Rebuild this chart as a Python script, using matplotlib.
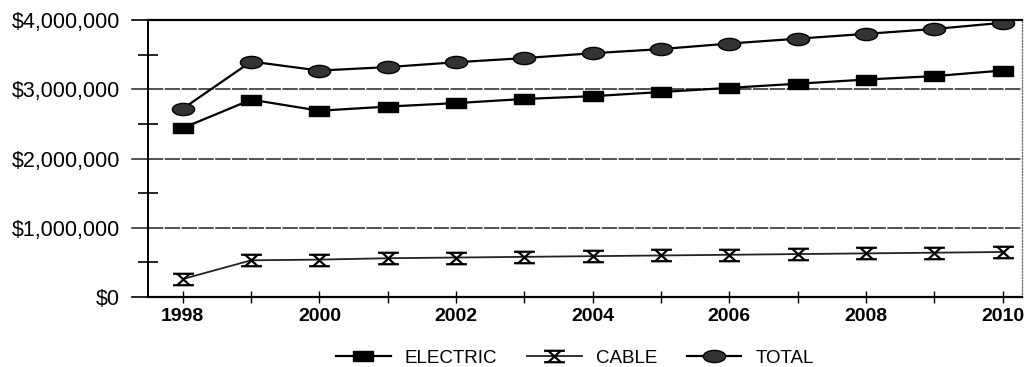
import matplotlib
matplotlib.use("Agg")
import matplotlib.pyplot as plt
from matplotlib.path import Path
from matplotlib.ticker import FuncFormatter, MultipleLocator
import numpy as np

years = [1998, 1999, 2000, 2001, 2002, 2003, 2004, 2005, 2006, 2007, 2008, 2009, 2010]
electric = [2440000, 2850000, 2690000, 2750000, 2800000, 2860000, 2900000,
            2960000, 3020000, 3080000, 3140000, 3190000, 3270000]
cable = [260000, 530000, 540000, 560000, 570000, 580000, 590000,
         600000, 610000, 620000, 630000, 640000, 650000]
total = [2720000, 3400000, 3270000, 3320000, 3390000, 3450000, 3520000,
         3580000, 3660000, 3730000, 3800000, 3870000, 3960000]
year_labels = ["1998", "2000", "2002", "2004", "2006", "2008", "2010"]

plt.rcParams['font.family'] = ['Liberation Sans', 'DejaVu Sans']

# wide rectangle marker for ELECTRIC
rect = Path([(-1, -0.5), (1, -0.5), (1, 0.5), (-1, 0.5), (-1, -0.5)],
            [Path.MOVETO, Path.LINETO, Path.LINETO, Path.LINETO, Path.CLOSEPOLY])
# flattened ellipse marker for TOTAL
circ = Path.unit_circle()
ellipse = Path(circ.vertices * np.array([1.0, 0.55]), circ.codes)
# bar-and-cross marker for CABLE
bowtie = Path([(-1, 0.55), (1, 0.55), (-1, -0.55), (1, -0.55),
               (-0.6, 0.55), (0.6, -0.55), (0.6, 0.55), (-0.6, -0.55)],
              [Path.MOVETO, Path.LINETO, Path.MOVETO, Path.LINETO,
               Path.MOVETO, Path.LINETO, Path.MOVETO, Path.LINETO])

fig = plt.figure(figsize=(10.25, 3.67), dpi=100)
ax = fig.add_axes([0.1444, 0.1907, 0.853, 0.7548])

ax.plot(years, electric, color='black', lw=1.6, marker=rect, ms=15,
        mfc='black', mec='black', label='ELECTRIC')
ax.plot(years, cable, color='#222222', lw=1.3, marker=bowtie, ms=15,
        mec='black', mew=1.6, label='CABLE')
ax.plot(years, total, color='black', lw=1.6, marker=ellipse, ms=16,
        mfc='#333333', mec='black', label='TOTAL')

ax.set_xlim(1997.49, 2010.29)
ax.set_ylim(0, 4000000)

ax.yaxis.set_major_locator(MultipleLocator(1000000))
ax.yaxis.set_minor_locator(MultipleLocator(500000))
ax.yaxis.set_major_formatter(FuncFormatter(lambda v, p: f"${v:,.0f}"))
ax.set_xticks(years, minor=True)
ax.set_xticks([int(y) for y in year_labels])
ax.set_xticklabels(year_labels, fontweight='bold', fontsize=14)
ax.tick_params(axis='y', which='major', direction='in', length=0, labelsize=15.5, pad=20)
ax.tick_params(axis='y', which='minor', direction='inout', length=14, width=1.2)
ax.tick_params(axis='x', which='both', direction='inout', length=8, width=1, pad=4)

for v in [1000000, 2000000, 3000000]:
    ax.axhline(v, color='#222222', lw=1.1, ls=(0, (10, 1)), zorder=0)
    ax.plot([1997.25, 1997.49], [v, v], color='#222222', lw=1.1, clip_on=False)
ax.plot([1997.25, 1997.49], [4000000, 4000000], color='black', lw=1.2, clip_on=False)
ax.plot([1997.25, 1997.49], [0, 0], color='black', lw=1.2, clip_on=False)

ax.spines['top'].set_linewidth(1.6)
ax.spines['bottom'].set_linewidth(1.6)
ax.spines['left'].set_linewidth(1.4)
ax.spines['right'].set_linestyle((0, (1, 1.5)))
ax.spines['right'].set_linewidth(0.9)
ax.spines['right'].set_color('#666666')

leg = fig.legend(loc='lower center', bbox_to_anchor=(0.561, -0.045), ncol=3,
                 frameon=False, fontsize=13.5, handlelength=2.9,
                 columnspacing=1.6, handletextpad=0.75)

fig.savefig("out.png", dpi=100)
